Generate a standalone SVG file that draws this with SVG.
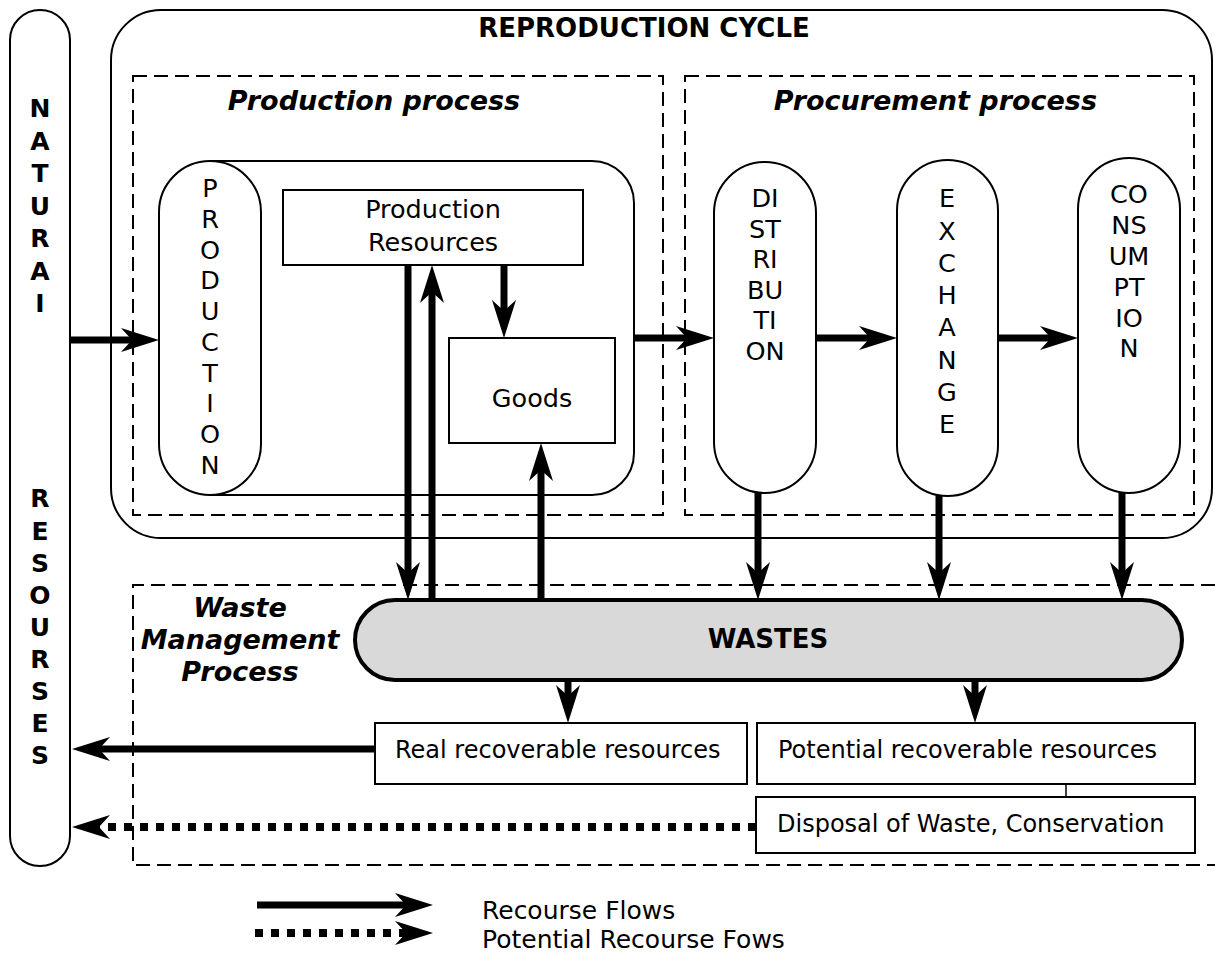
<svg xmlns="http://www.w3.org/2000/svg" width="1215" height="955" viewBox="0 0 1215 955">
<style>
text{font-family:"DejaVu Sans",Verdana,sans-serif;fill:#000}
.b{font-weight:bold}
.bi{font-weight:bold;font-style:italic;font-size:27px}
.lab{font-size:25.5px}
.sm{font-size:24px}
.leg{font-size:25px}
.pill{fill:#fff;stroke:#000;stroke-width:2}
.box{fill:#fff;stroke:#000;stroke-width:2}
.dash{fill:none;stroke:#000;stroke-width:2;stroke-dasharray:14 7}
.fl{stroke:#000;stroke-width:7;fill:none;marker-end:url(#ah)}
.pf{stroke:#000;stroke-width:8;fill:none;stroke-dasharray:8 8;marker-end:url(#ah)}
</style>
<defs>
<marker id="ah" markerUnits="userSpaceOnUse" viewBox="0 0 38 24" refX="14" refY="12" markerWidth="38" markerHeight="24" orient="auto" overflow="visible">
<path d="M0,0 L38,12 L0,24 L11,12 Z" fill="#000"/>
</marker>
</defs>
<rect width="1215" height="955" fill="#fff"/>

<g id="natural-resources">
<rect class="pill" x="10" y="10" width="60" height="856" rx="30"/>
<text class="b" font-size="25" text-anchor="middle"><tspan x="40" y="117">N</tspan><tspan x="40" y="149.5">A</tspan><tspan x="40" y="182">T</tspan><tspan x="40" y="214.5">U</tspan><tspan x="40" y="247">R</tspan><tspan x="40" y="279.5">A</tspan><tspan x="40" y="312">I</tspan><tspan x="40" y="507">R</tspan><tspan x="40" y="539.5">E</tspan><tspan x="40" y="572">S</tspan><tspan x="40" y="604">O</tspan><tspan x="40" y="636">U</tspan><tspan x="40" y="668">R</tspan><tspan x="40" y="700">S</tspan><tspan x="40" y="732">E</tspan><tspan x="40" y="764">S</tspan></text>
</g>

<g id="reproduction-cycle">
<rect class="pill" x="111" y="10" width="1101" height="528" rx="50"/>
<text class="b" font-size="26" x="644" y="37" text-anchor="middle">REPRODUCTION CYCLE</text>
</g>

<g id="production-process">
<rect class="dash" x="133" y="76" width="530" height="439"/>
<text class="bi" x="374" y="110" text-anchor="middle">Production process</text>
<path d="M210,161 H592 A42,42 0 0 1 634,203 V453 A42,42 0 0 1 592,495 H210" fill="none" stroke="#000" stroke-width="2"/>
</g>

<g id="procurement-process">
<rect class="dash" x="685" y="76" width="509" height="439"/>
<text class="bi" x="1097" y="110" text-anchor="end">Procurement process</text>
</g>

<g id="production">
<rect class="pill" x="159" y="161" width="102" height="334" rx="51"/>
<text class="lab" text-anchor="middle"><tspan x="210" y="197">P</tspan><tspan x="210" y="228">R</tspan><tspan x="210" y="258.5">O</tspan><tspan x="210" y="289">D</tspan><tspan x="210" y="320">U</tspan><tspan x="210" y="351">C</tspan><tspan x="210" y="381.5">T</tspan><tspan x="210" y="412">I</tspan><tspan x="210" y="443">O</tspan><tspan x="210" y="474">N</tspan></text>
</g>

<g id="production-resources">
<rect class="box" x="283" y="190" width="300" height="75"/>
<text class="lab" text-anchor="middle"><tspan x="433" y="218">Production</tspan><tspan x="433" y="251">Resources</tspan></text>
</g>

<g id="goods">
<rect class="box" x="449" y="338" width="166" height="105"/>
<text class="lab" x="532" y="407" text-anchor="middle">Goods</text>
</g>

<g id="distribution">
<rect class="pill" x="714" y="162" width="102" height="331" rx="51"/>
<text class="lab" text-anchor="middle"><tspan x="765" y="207">DI</tspan><tspan x="765" y="238">ST</tspan><tspan x="765" y="268">RI</tspan><tspan x="765" y="298.5">BU</tspan><tspan x="765" y="329">TI</tspan><tspan x="765" y="360">ON</tspan></text>
</g>

<g id="exchange">
<rect class="pill" x="897" y="160" width="101" height="336" rx="50.5"/>
<text class="lab" text-anchor="middle"><tspan x="947" y="207">E</tspan><tspan x="947" y="239.5">X</tspan><tspan x="947" y="272">C</tspan><tspan x="947" y="304">H</tspan><tspan x="947" y="336">A</tspan><tspan x="947" y="368.5">N</tspan><tspan x="947" y="401">G</tspan><tspan x="947" y="433">E</tspan></text>
</g>

<g id="consumption">
<rect class="pill" x="1078" y="158" width="102" height="335" rx="51"/>
<text class="lab" text-anchor="middle"><tspan x="1129" y="203">CO</tspan><tspan x="1129" y="234">NS</tspan><tspan x="1129" y="265">UM</tspan><tspan x="1129" y="296">PT</tspan><tspan x="1129" y="326.5">IO</tspan><tspan x="1129" y="357">N</tspan></text>
</g>

<g id="waste-management-process">
<path class="dash" d="M1215,585 H133 V865 H1215"/>
<text class="bi" text-anchor="middle"><tspan x="240" y="617">Waste</tspan><tspan x="240" y="649">Management</tspan><tspan x="240" y="681">Process</tspan></text>
</g>

<g id="wastes">
<rect x="355" y="600" width="827" height="80" rx="40" fill="#d9d9d9" stroke="#000" stroke-width="4"/>
<text class="b" font-size="26" x="768" y="648" text-anchor="middle">WASTES</text>
</g>

<g id="real-recoverable">
<rect class="box" x="375" y="723" width="372" height="61"/>
<text class="sm" x="395" y="758">Real recoverable resources</text>
</g>

<g id="potential-recoverable">
<rect class="box" x="757" y="723" width="438" height="61"/>
<text class="sm" x="778" y="758">Potential recoverable resources</text>
</g>

<g id="disposal">
<rect class="box" x="756" y="797" width="439" height="56"/>
<text class="sm" x="777" y="832">Disposal of Waste, Conservation</text>
</g>

<g id="connectors">
<line class="fl" x1="70" y1="340" x2="135" y2="340"/>
<line class="fl" x1="634" y1="338" x2="690" y2="338"/>
<line class="fl" x1="816" y1="338" x2="873" y2="338"/>
<line class="fl" x1="998" y1="338" x2="1054" y2="338"/>
<line class="fl" x1="408" y1="265" x2="408" y2="576"/>
<line class="fl" x1="432" y1="600" x2="432" y2="289"/>
<line class="fl" x1="504" y1="265" x2="504" y2="314"/>
<line class="fl" x1="541" y1="600" x2="541" y2="467"/>
<line class="fl" x1="758" y1="493" x2="758" y2="576"/>
<line class="fl" x1="939" y1="496" x2="939" y2="576"/>
<line class="fl" x1="1122" y1="493" x2="1122" y2="576"/>
<line class="fl" x1="568" y1="680" x2="568" y2="699"/>
<line class="fl" x1="975" y1="680" x2="975" y2="699"/>
<line class="fl" x1="375" y1="749" x2="96" y2="749"/>
<line class="pf" x1="756" y1="827" x2="96" y2="827"/>
<line x1="1066" y1="784" x2="1066" y2="797" stroke="#000" stroke-width="1.5"/>
</g>

<g id="legend">
<line class="fl" x1="257" y1="905" x2="409" y2="905"/>
<line class="pf" x1="255" y1="933" x2="409" y2="933"/>
<text class="leg" x="482" y="919">Recourse Flows</text>
<text class="leg" x="482" y="948">Potential Recourse Fows</text>
</g>
</svg>
